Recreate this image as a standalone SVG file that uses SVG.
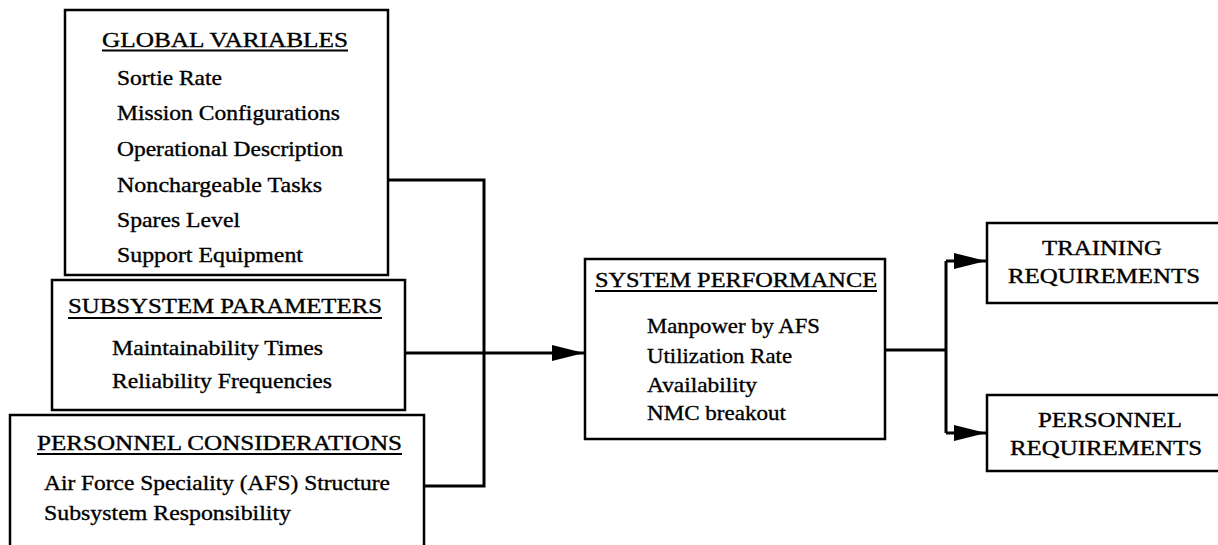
<svg xmlns="http://www.w3.org/2000/svg" width="1218" height="545" viewBox="0 0 1218 545">
<style>
.box{fill:#fff;stroke:#000;stroke-width:2.5}
.t{font-family:"Liberation Serif","Times New Roman",serif;font-size:21px;fill:#000;stroke:#000;stroke-width:0.35}
.h{font-family:"Liberation Serif","Times New Roman",serif;font-size:20px;fill:#000;stroke:#000;stroke-width:0.35}
.ul{stroke:#000;stroke-width:1.8}
.c{fill:none;stroke:#000;stroke-width:3}
</style>
<defs>
<marker id="ah" markerWidth="32" markerHeight="18" refX="32" refY="9" orient="auto" markerUnits="userSpaceOnUse">
<path d="M0,1 L32,9 L0,17 Z" fill="#000"/>
</marker>
</defs>
<rect width="1218" height="545" fill="#fff"/>
<g id="connectors">
<path class="c" d="M388,180 H484 V486 H424"/>
<path class="c" d="M405,353 H584" marker-end="url(#ah)"/>
<path class="c" d="M885,350 H946 M946,261 V433"/>
<path class="c" d="M946,261 H986" marker-end="url(#ah)"/>
<path class="c" d="M946,433 H986" marker-end="url(#ah)"/>
</g>
<g id="global-variables">
<rect class="box" x="65" y="10" width="323" height="265"/>
<text class="h" x="102" y="47" textLength="246" lengthAdjust="spacingAndGlyphs">GLOBAL VARIABLES</text>
<line class="ul" x1="102" y1="50.5" x2="348" y2="50.5"/>
<text class="t" x="117" y="85" textLength="105" lengthAdjust="spacingAndGlyphs">Sortie Rate</text>
<text class="t" x="117" y="120" textLength="223" lengthAdjust="spacingAndGlyphs">Mission Configurations</text>
<text class="t" x="117" y="156" textLength="226" lengthAdjust="spacingAndGlyphs">Operational Description</text>
<text class="t" x="117" y="192" textLength="205" lengthAdjust="spacingAndGlyphs">Nonchargeable Tasks</text>
<text class="t" x="117" y="227" textLength="123" lengthAdjust="spacingAndGlyphs">Spares Level</text>
<text class="t" x="117" y="262" textLength="186" lengthAdjust="spacingAndGlyphs">Support Equipment</text>
</g>
<g id="subsystem-parameters">
<rect class="box" x="52" y="280" width="353" height="130"/>
<text class="h" x="68" y="313" textLength="314" lengthAdjust="spacingAndGlyphs">SUBSYSTEM PARAMETERS</text>
<line class="ul" x1="68" y1="318" x2="382" y2="318"/>
<text class="t" x="112" y="355" textLength="211" lengthAdjust="spacingAndGlyphs">Maintainability Times</text>
<text class="t" x="112" y="388" textLength="220" lengthAdjust="spacingAndGlyphs">Reliability Frequencies</text>
</g>
<g id="personnel-considerations">
<rect class="box" x="10" y="415" width="414" height="145"/>
<text class="h" x="37" y="450" textLength="365" lengthAdjust="spacingAndGlyphs">PERSONNEL CONSIDERATIONS</text>
<line class="ul" x1="37" y1="454" x2="402" y2="454"/>
<text class="t" x="44" y="490" textLength="346" lengthAdjust="spacingAndGlyphs">Air Force Speciality (AFS) Structure</text>
<text class="t" x="44" y="520" textLength="247" lengthAdjust="spacingAndGlyphs">Subsystem Responsibility</text>
</g>
<g id="system-performance">
<rect class="box" x="585" y="259" width="300" height="180"/>
<text class="h" x="595" y="287" textLength="282" lengthAdjust="spacingAndGlyphs">SYSTEM PERFORMANCE</text>
<line class="ul" x1="595" y1="291" x2="877" y2="291"/>
<text class="t" x="647" y="333" textLength="173" lengthAdjust="spacingAndGlyphs">Manpower by AFS</text>
<text class="t" x="647" y="363" textLength="145" lengthAdjust="spacingAndGlyphs">Utilization Rate</text>
<text class="t" x="647" y="392" textLength="110" lengthAdjust="spacingAndGlyphs">Availability</text>
<text class="t" x="647" y="420" textLength="139" lengthAdjust="spacingAndGlyphs">NMC breakout</text>
</g>
<g id="training-requirements">
<rect class="box" x="987" y="223" width="250" height="80"/>
<text class="h" x="1042" y="255" textLength="120" lengthAdjust="spacingAndGlyphs">TRAINING</text>
<text class="h" x="1008" y="283" textLength="192" lengthAdjust="spacingAndGlyphs">REQUIREMENTS</text>
</g>
<g id="personnel-requirements">
<rect class="box" x="987" y="395" width="250" height="76"/>
<text class="h" x="1038" y="427" textLength="144" lengthAdjust="spacingAndGlyphs">PERSONNEL</text>
<text class="h" x="1010" y="455" textLength="192" lengthAdjust="spacingAndGlyphs">REQUIREMENTS</text>
</g>
</svg>
